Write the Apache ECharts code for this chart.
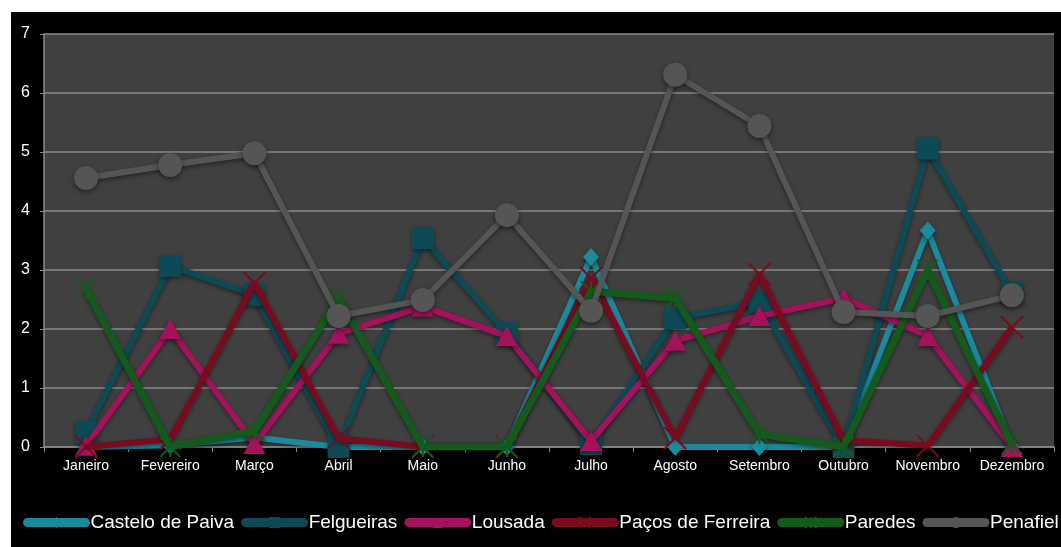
<!DOCTYPE html>
<html><head><meta charset="utf-8">
<script src="https://cdn.jsdelivr.net/npm/echarts@6/dist/echarts.min.js"></script>
<style>html,body{margin:0;padding:0;background:#fff}#c{width:1061px;height:547px}</style>
</head><body><div id="c"></div>
<script>
const months = ['Janeiro','Fevereiro','Março','Abril','Maio','Junho','Julho','Agosto','Setembro','Outubro','Novembro','Dezembro'];
const seriesNames = ['Castelo de Paiva','Felgueiras','Lousada','Paços de Ferreira','Paredes','Penafiel'];
const casteloDePaiva   = [0, 0.03, 0.16, 0, 0, 0, 3.22, 0, 0, 0, 3.67, 0];
const felgueiras       = [0.25, 3.07, 2.58, 0, 3.54, 1.93, 0.05, 2.18, 2.46, 0, 5.06, 2.61];
const lousada          = [0.02, 2.0, 0.05, 1.92, 2.38, 1.88, 0.1, 1.8, 2.22, 2.52, 1.88, 0];
const pacosDeFerreira  = [0, 0.13, 2.78, 0.15, 0, 0, 2.86, 0.15, 2.93, 0.12, 0.02, 2.03];
const paredes          = [2.68, 0, 0.27, 2.52, 0, 0, 2.64, 2.52, 0.22, 0, 3.0, 0.05];
const penafiel         = [4.56, 4.78, 4.98, 2.22, 2.49, 3.93, 2.31, 6.31, 5.44, 2.29, 2.22, 2.57];
const yTicks = [0,1,2,3,4,5,6,7];

const FONT = "'Liberation Sans Narrow','Arial Narrow','Liberation Sans',sans-serif";
const colors = ['#1a8a9c','#0d4a56','#a3125a','#7a0a1e','#145a1c','#555555'];
const symbols = [
  'diamond',
  'rect',
  'triangle',
  'path://M0,0L10,10M10,0L0,10',
  'path://M0,0L10,10M10,0L0,10M5,0L5,10',
  'circle'
];
const sizes = [[16,18],[22,22],[22,20],[22,22],[20,20],[24,24]];
const datas = [casteloDePaiva, felgueiras, lousada, pacosDeFerreira, paredes, penafiel];
const widths = [6,6,6,6,7,6];
const series = datas.map((d,i)=>{
  const isPath = symbols[i].startsWith('path');
  return {
    name: seriesNames[i],
    type: 'line',
    data: d,
    symbol: symbols[i],
    symbolSize: sizes[i],
    showAllSymbol: true,
    lineStyle: {color: colors[i], width: widths[i], shadowColor:'rgba(0,0,0,0.45)', shadowBlur:4, shadowOffsetY:2},
    itemStyle: isPath ? {color: colors[i], borderColor: colors[i], borderWidth: 2} :
      {color: colors[i], shadowColor:'rgba(0,0,0,0.5)', shadowBlur:5, shadowOffsetY:2},
    emphasis: {disabled: true},
    z: 2 + i
  };
});

const chart = echarts.init(document.getElementById('c'), null, {renderer:'canvas'});
chart.setOption({
  animation: false,
  backgroundColor: '#ffffff',
  graphic: [{type:'rect', shape:{x:11, y:12, width:1050, height:535}, style:{fill:'#000000'}, z:-10}],
  grid: {left:44, right:7, top:34, bottom:100, show:true, backgroundColor:'#404040', borderWidth:0},
  legend: {
    data: seriesNames,
    left: 18, top: 508, width: 1200,
    itemWidth: 58, itemHeight: 14, itemGap: 7,
    lineStyle: {width: 9, cap: 'round'},
    textStyle: {color:'#ffffff', fontSize:19, fontFamily: FONT}
  },
  xAxis: {
    type: 'category', data: months, boundaryGap: true,
    axisLine: {lineStyle:{color:'#8a8a8a', width:1.5}},
    axisTick: {show:true, length:5, lineStyle:{color:'#8a8a8a'}},
    axisLabel: {color:'#ffffff', fontSize:14, fontFamily: FONT, margin:12, interval:0}
  },
  yAxis: {
    type: 'value', min: 0, max: 7, interval: 1,
    axisLine: {show:true, lineStyle:{color:'#8a8a8a', width:1.5}},
    axisTick: {show:true, length:4, lineStyle:{color:'#8a8a8a'}},
    splitLine: {lineStyle:{color:'#8a8a8a', width:1.5}},
    axisLabel: {color:'#ffffff', fontSize:16, fontFamily: FONT, margin:14,
      formatter: v => yTicks.includes(v) ? String(v) : ''}
  },
  series: series
});
</script></body></html>
